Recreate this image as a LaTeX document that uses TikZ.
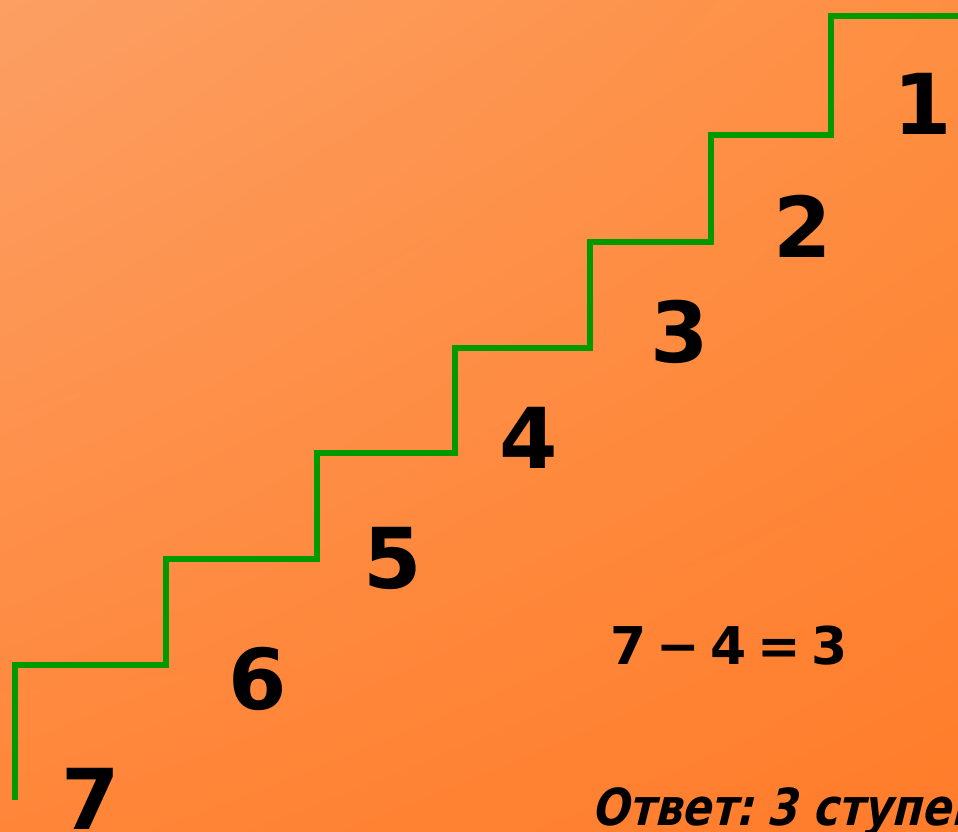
\documentclass[tikz,border=0pt]{standalone}
\usepackage{fontspec}
\setmainfont{DejaVu Sans}
\newfontfamily\narrowfont{DejaVu Sans}[FakeStretch=0.85, FakeSlant=0.08]
\usepackage{xcolor}
\usepackage{tikz}
\usetikzlibrary{positioning,calc,shadings}
\definecolor{glow}{HTML}{FC9F64}
\definecolor{peach}{HTML}{FE8F42}
\definecolor{ember}{HTML}{FF8639}
\definecolor{flame}{HTML}{FF7C2A}
\definecolor{stair}{HTML}{009900}
\definecolor{ink}{HTML}{000000}

\begin{document}
\begin{tikzpicture}[x=1pt, y=1pt]
  \def\pw{958}
  \def\ph{832}
  \useasboundingbox (0,0) rectangle (\pw,\ph);
  \clip (0,0) rectangle (\pw,\ph);
  \shade[upper left=glow, upper right=peach, lower left=ember, lower right=flame] (0,0) rectangle (\pw,\ph);

  % the stairs, from the bottom step up to the top landing
  \draw[stair, line width=6.5pt, line join=miter]
    (15,32) |- (166,167) |- (317,273) |- (455,379) |- (590,484)
    |- (711,590) |- (831,697) |- (964,816);

  \node (n1) [font=\color{ink}\bfseries\fontsize{84}{90}\selectfont] at (923,728) {1};
  \node (n2) [font=\color{ink}\bfseries\fontsize{84}{90}\selectfont] at (803,606) {2};
  \node (n3) [font=\color{ink}\bfseries\fontsize{84}{90}\selectfont] at (680,500) {3};
  \node (n4) [font=\color{ink}\bfseries\fontsize{84}{90}\selectfont] at (529,394) {4};
  \node (n5) [font=\color{ink}\bfseries\fontsize{84}{90}\selectfont] at (393,274) {5};
  \node (n6) [font=\color{ink}\bfseries\fontsize{84}{90}\selectfont] at (258,153) {6};
  \node (n7) [font=\color{ink}\bfseries\fontsize{84}{90}\selectfont] at (91,33) {7};

  \node (calc) [font=\color{ink}\bfseries\fontsize{52}{58}\selectfont] at (729,186) {7\hspace{0.2em}−\hspace{0.2em}4\hspace{0.2em}=\hspace{0.2em}3};
  \node (answer) [anchor=base west, inner sep=0pt, font=\color{ink}\narrowfont\bfseries\itshape\fontsize{51}{56}\selectfont] at (594,6) {Ответ:\hspace{-0.12em} 3 ступеньки};
\end{tikzpicture}
\end{document}
